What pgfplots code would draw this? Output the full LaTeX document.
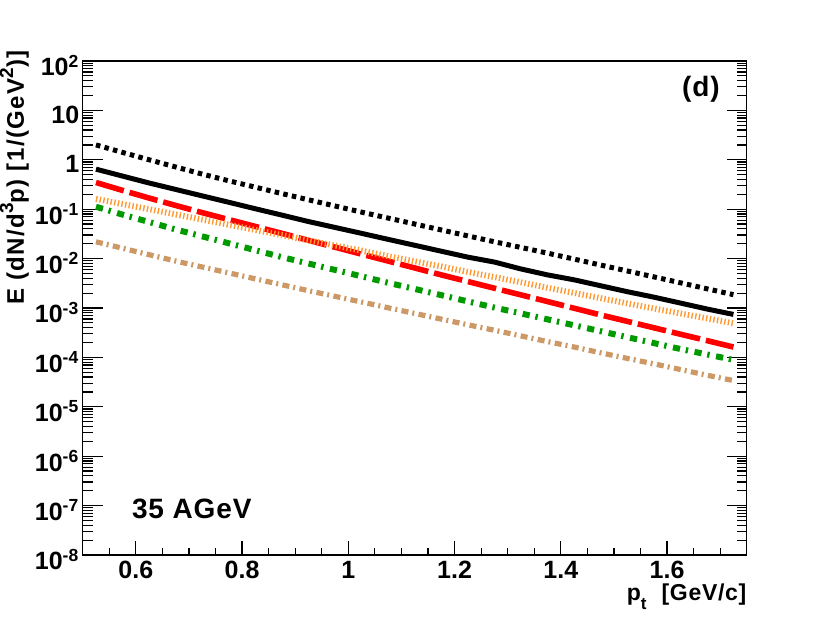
\documentclass[border=0pt]{standalone}
\usepackage{fontspec}
\setmainfont{Liberation Sans}
\newfontfamily\widefam[LetterSpace=3]{Liberation Sans}
\newfontfamily\widerfam[LetterSpace=6]{Liberation Sans}
\usepackage{pgfplots}
\pgfplotsset{compat=1.18}
\definecolor{rorange}{RGB}{255,153,51}
\definecolor{rgreen}{RGB}{0,153,0}
\definecolor{rtan}{RGB}{204,153,102}
\newcommand\tlfont{\fontsize{12.5}{14}\selectfont\bfseries}
\newcommand\txfont{\widefam\fontsize{14}{16}\selectfont\bfseries}
\newcommand\lbfont{\widefam\fontsize{11.5}{13}\selectfont\bfseries}
\newcommand\ylfont{\widerfam\fontsize{12}{14}\selectfont\bfseries}
\newcommand\sups[1]{\raisebox{0.45em}{\fontsize{9.5}{9.5}\selectfont #1}}
\begin{document}
\begin{tikzpicture}
\begin{axis}[scale only axis, width=332pt, height=247pt,
  xmin=0.5, xmax=1.75, ymode=log, ymin=1e-8, ymax=1e2,
  tick align=inside, axis line style={line width=0.75pt},
  tick style={black, line width=0.6pt},
  tick label style={font=\tlfont},
  xtick=\empty,
  ytick={1e-8,1e-7,1e-6,1e-5,1e-4,1e-3,1e-2,1e-1,1,10,100},
  yticklabels={10\textsuperscript{-8},10\textsuperscript{-7},10\textsuperscript{-6},10\textsuperscript{-5},10\textsuperscript{-4},10\textsuperscript{-3},10\textsuperscript{-2},10\textsuperscript{-1},1,10,10\textsuperscript{2}},
  yticklabel style={anchor=east, inner sep=1.5pt, yshift=-2.3pt},
  major tick length=10pt, minor tick length=5pt]
% black dotted
\addplot[black, line width=2.5pt, dash pattern=on 2.25pt off 2.15pt] coordinates {
(0.525,2.0)(0.575,1.41)(0.625,1.0)(0.675,0.716)(0.725,0.513)(0.775,0.376)(0.825,0.279)(0.875,0.207)(0.925,0.155)(0.975,0.116)(1.025,0.0871)(1.075,0.0661)(1.125,0.0501)(1.175,0.0380)(1.225,0.0288)(1.275,0.0219)(1.325,0.0168)(1.375,0.0129)(1.425,0.00977)(1.475,0.00741)(1.525,0.00562)(1.575,0.00427)(1.625,0.00324)(1.675,0.00245)(1.725,0.00186)};
% black solid
\addplot[black, line width=2.5pt] coordinates {
(0.525,0.646)(0.575,0.468)(0.625,0.339)(0.675,0.251)(0.725,0.186)(0.775,0.138)(0.825,0.102)(0.875,0.0759)(0.925,0.0562)(0.975,0.0427)(1.025,0.0324)(1.075,0.0245)(1.125,0.0186)(1.175,0.0141)(1.225,0.0107)(1.275,0.00851)(1.325,0.00617)(1.375,0.00468)(1.425,0.00372)(1.475,0.00282)(1.525,0.00214)(1.575,0.00166)(1.625,0.00126)(1.675,0.000955)(1.725,0.000741)};
% red dashed
\addplot[red, line width=2.8pt, dash pattern=on 14.5pt off 3pt] coordinates {
(0.525,0.347)(0.575,0.240)(0.625,0.168)(0.675,0.119)(0.725,0.0851)(0.775,0.0617)(0.825,0.0447)(0.875,0.0324)(0.925,0.0234)(0.975,0.0170)(1.025,0.0123)(1.075,0.00891)(1.125,0.00646)(1.175,0.00468)(1.225,0.00343)(1.275,0.00251)(1.325,0.00184)(1.375,0.00135)(1.425,0.000989)(1.475,0.000724)(1.525,0.000537)(1.575,0.000398)(1.625,0.000295)(1.675,0.000219)(1.725,0.000162)};
% orange striped
\addplot[rorange, line width=3pt, dash pattern=on 0.7pt off 1.15pt] coordinates {
(0.525,0.162)(0.575,0.127)(0.625,0.100)(0.675,0.0785)(0.725,0.0617)(0.775,0.0484)(0.825,0.0380)(0.875,0.0299)(0.925,0.0234)(0.975,0.0184)(1.025,0.0145)(1.075,0.0112)(1.125,0.00881)(1.175,0.00692)(1.225,0.00537)(1.275,0.00422)(1.325,0.00331)(1.375,0.00257)(1.425,0.00202)(1.475,0.00158)(1.525,0.00124)(1.575,0.000977)(1.625,0.000776)(1.675,0.000617)(1.725,0.000490)};
% green dash-dot
\addplot[rgreen, line width=3pt, dash pattern=on 3.6pt off 2.9pt on 1.2pt off 3.3pt] coordinates {
(0.525,0.112)(0.575,0.0776)(0.625,0.0550)(0.675,0.0389)(0.725,0.0282)(0.775,0.0204)(0.825,0.0148)(0.875,0.0107)(0.925,0.00794)(0.975,0.00589)(1.025,0.00437)(1.075,0.00324)(1.125,0.00243)(1.175,0.00182)(1.225,0.00136)(1.275,0.00102)(1.325,0.000776)(1.375,0.000589)(1.425,0.000447)(1.475,0.000339)(1.525,0.000257)(1.575,0.000195)(1.625,0.000148)(1.675,0.000115)(1.725,0.0000891)};
% tan dash-dot
\addplot[rtan, line width=2.6pt, dash pattern=on 3.5pt off 2pt on 1pt off 2.2pt] coordinates {
(0.525,0.0219)(0.575,0.0162)(0.625,0.0120)(0.675,0.00891)(0.725,0.00676)(0.775,0.00513)(0.825,0.00389)(0.875,0.00295)(0.925,0.00224)(0.975,0.00172)(1.025,0.00132)(1.075,0.00101)(1.125,0.000776)(1.175,0.000596)(1.225,0.000457)(1.275,0.000355)(1.325,0.000272)(1.375,0.000209)(1.425,0.000162)(1.475,0.000124)(1.525,0.0000955)(1.575,0.0000741)(1.625,0.0000569)(1.675,0.0000437)(1.725,0.0000339)};
\node[anchor=base west, inner sep=0pt, font=\txfont] at (axis description cs:0.0738,0.0743) {35 AGeV};
\node[anchor=base east, inner sep=0pt, font=\txfont] at (axis description cs:0.9598,0.9277) {(d)};
\end{axis}
\begin{axis}[scale only axis, width=332pt, height=247pt,
  xmin=0.5, xmax=1.75, ymin=0, ymax=1,
  tick align=inside, axis line style={line width=0.75pt},
  tick style={black, line width=0.6pt},
  tick label style={font=\tlfont},
  ytick=\empty, xtick pos=left,
  xtick={0.6,0.8,1,1.2,1.4,1.6}, xticklabels={0.6,0.8,1,1.2,1.4,1.6},
  minor xtick={0.55,0.65,0.7,0.75,0.85,0.9,0.95,1.05,1.1,1.15,1.25,1.3,1.35,1.45,1.5,1.55,1.65,1.7},
  xticklabel style={anchor=north, inner sep=0pt, yshift=-3pt},
  major tick length=7pt, minor tick length=3.5pt]
\end{axis}
\node[anchor=base east, inner sep=0pt, font=\lbfont] at ([yshift=-23pt]current axis.south east) {p\raisebox{-0.35em}{\fontsize{8.5}{8.5}\selectfont t}\hspace{4pt} [GeV/c]};
\node[anchor=base east, rotate=90, inner sep=0pt, font=\ylfont] at ([xshift=-29.35pt, yshift=5.5pt]current axis.north west) {E (dN/d\sups{3}p) [1/(GeV\sups{2})]};
\pgfresetboundingbox
\path (current axis.south west) +(-41.35pt,-31.5pt) (current axis.north east) +(41.65pt,30.5pt);
\end{tikzpicture}
\end{document}
